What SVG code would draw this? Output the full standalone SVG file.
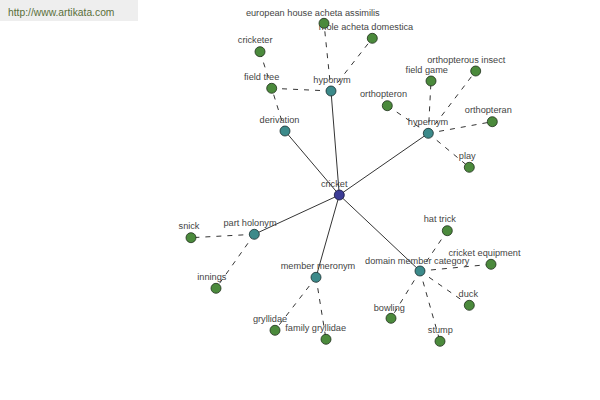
<svg xmlns="http://www.w3.org/2000/svg" width="600" height="400" viewBox="0 0 600 400">
<style>
.bg{fill:#ffffff}
.solid{stroke:#000;stroke-width:0.8;fill:none}
.dash{stroke:#000;stroke-width:0.8;stroke-dasharray:5,6;fill:none}
.leaf{fill:#4b8a3c;stroke:#1e2e1a;stroke-width:0.8}
.rel{fill:#3c8a8a;stroke:#1a2e2e;stroke-width:0.8}
.root{fill:#3c3c96;stroke:#14143a;stroke-width:0.8}
text{font-family:"Liberation Sans",Arial,sans-serif;font-size:9.2px;fill:#444;text-anchor:middle}
.url{font-size:10.3px;fill:#5a6e3a;text-anchor:start}
</style>
<rect class="bg" x="0" y="0" width="600" height="400"/>
<g id="url">
<rect x="0" y="0" width="138" height="21" fill="#eeeeee"/>
<text class="url" x="8" y="15.5">http://www.artikata.com</text>
</g>
<g id="connectors">
<line class="solid" x1="339.3" y1="195" x2="285" y2="131"/>
<line class="solid" x1="339.3" y1="195" x2="331" y2="91"/>
<line class="solid" x1="339.3" y1="195" x2="428.3" y2="133.3"/>
<line class="solid" x1="339.3" y1="195" x2="254.3" y2="234.3"/>
<line class="solid" x1="339.3" y1="195" x2="316" y2="277.3"/>
<line class="solid" x1="339.3" y1="195" x2="420" y2="271"/>
<line class="dash" x1="285" y1="131" x2="271.7" y2="88.3"/>
<line class="dash" x1="271.7" y1="88.3" x2="260" y2="51.7"/>
<line class="dash" x1="331" y1="91" x2="271.7" y2="88.3"/>
<line class="dash" x1="331" y1="91" x2="324" y2="23.3"/>
<line class="dash" x1="331" y1="91" x2="372.3" y2="38.3"/>
<line class="dash" x1="428.3" y1="133.3" x2="431" y2="81"/>
<line class="dash" x1="428.3" y1="133.3" x2="475.7" y2="71"/>
<line class="dash" x1="428.3" y1="133.3" x2="387.3" y2="105.7"/>
<line class="dash" x1="428.3" y1="133.3" x2="492.3" y2="121.7"/>
<line class="dash" x1="428.3" y1="133.3" x2="469.3" y2="167.3"/>
<line class="dash" x1="254.3" y1="234.3" x2="191" y2="237.7"/>
<line class="dash" x1="254.3" y1="234.3" x2="216" y2="288.3"/>
<line class="dash" x1="316" y1="277.3" x2="275" y2="330.3"/>
<line class="dash" x1="316" y1="277.3" x2="326" y2="339.3"/>
<line class="dash" x1="420" y1="271" x2="447.3" y2="230.7"/>
<line class="dash" x1="420" y1="271" x2="491" y2="264.3"/>
<line class="dash" x1="420" y1="271" x2="469.3" y2="305.3"/>
<line class="dash" x1="420" y1="271" x2="391" y2="318.3"/>
<line class="dash" x1="420" y1="271" x2="440" y2="341.3"/>
</g>
<g id="n-mole"><text x="366" y="30">mole acheta domestica</text><circle class="leaf" cx="372.3" cy="38.3" r="5"/></g>
<g id="n-european"><text x="312.8" y="16">european house acheta assimilis</text><circle class="leaf" cx="324" cy="23.3" r="5"/></g>
<g id="n-cricketer"><text x="255.2" y="43.3">cricketer</text><circle class="leaf" cx="260" cy="51.7" r="5"/></g>
<g id="n-fieldtree"><text x="261.7" y="80">field tree</text><circle class="leaf" cx="271.7" cy="88.3" r="5"/></g>
<g id="n-derivation"><text x="279.5" y="123.3">derivation</text><circle class="rel" cx="285" cy="131" r="5"/></g>
<g id="n-hyponym"><text x="332" y="83.3">hyponym</text><circle class="rel" cx="331" cy="91" r="5"/></g>
<g id="n-fieldgame"><text x="426.8" y="73.3">field game</text><circle class="leaf" cx="431" cy="81" r="5"/></g>
<g id="n-orthopterousinsect"><text x="466.3" y="63.3">orthopterous insect</text><circle class="leaf" cx="475.7" cy="71" r="5"/></g>
<g id="n-orthopteron"><text x="383.5" y="97.3">orthopteron</text><circle class="leaf" cx="387.3" cy="105.7" r="5"/></g>
<g id="n-orthopteran"><text x="488.3" y="113.3">orthopteran</text><circle class="leaf" cx="492.3" cy="121.7" r="5"/></g>
<g id="n-hypernym"><text x="428" y="125">hypernym</text><circle class="rel" cx="428.3" cy="133.3" r="5"/></g>
<g id="n-play"><text x="467.3" y="159.3">play</text><circle class="leaf" cx="469.3" cy="167.3" r="5"/></g>
<g id="n-cricket"><text x="334.2" y="187">cricket</text><circle class="root" cx="339.3" cy="195" r="5"/></g>
<g id="n-snick"><text x="189" y="229.3">snick</text><circle class="leaf" cx="191" cy="237.7" r="5"/></g>
<g id="n-partholonym"><text x="250" y="226">part holonym</text><circle class="rel" cx="254.3" cy="234.3" r="5"/></g>
<g id="n-innings"><text x="211.8" y="280.3">innings</text><circle class="leaf" cx="216" cy="288.3" r="5"/></g>
<g id="n-membermeronym"><text x="318" y="269.3">member meronym</text><circle class="rel" cx="316" cy="277.3" r="5"/></g>
<g id="n-gryllidae"><text x="270" y="322.3">gryllidae</text><circle class="leaf" cx="275" cy="330.3" r="5"/></g>
<g id="n-familygryllidae"><text x="315.7" y="331.3">family gryllidae</text><circle class="leaf" cx="326" cy="339.3" r="5"/></g>
<g id="n-hattrick"><text x="439.8" y="222.3">hat trick</text><circle class="leaf" cx="447.3" cy="230.7" r="5"/></g>
<g id="n-cricketequipment"><text x="484.5" y="256">cricket equipment</text><circle class="leaf" cx="491" cy="264.3" r="5"/></g>
<g id="n-domain"><text x="417.2" y="264">domain member category</text><circle class="rel" cx="420" cy="271" r="5"/></g>
<g id="n-duck"><text x="468.3" y="297.3">duck</text><circle class="leaf" cx="469.3" cy="305.3" r="5"/></g>
<g id="n-bowling"><text x="389.3" y="310.6">bowling</text><circle class="leaf" cx="391" cy="318.3" r="5"/></g>
<g id="n-stump"><text x="440.3" y="333.3">stump</text><circle class="leaf" cx="440" cy="341.3" r="5"/></g>
</svg>
